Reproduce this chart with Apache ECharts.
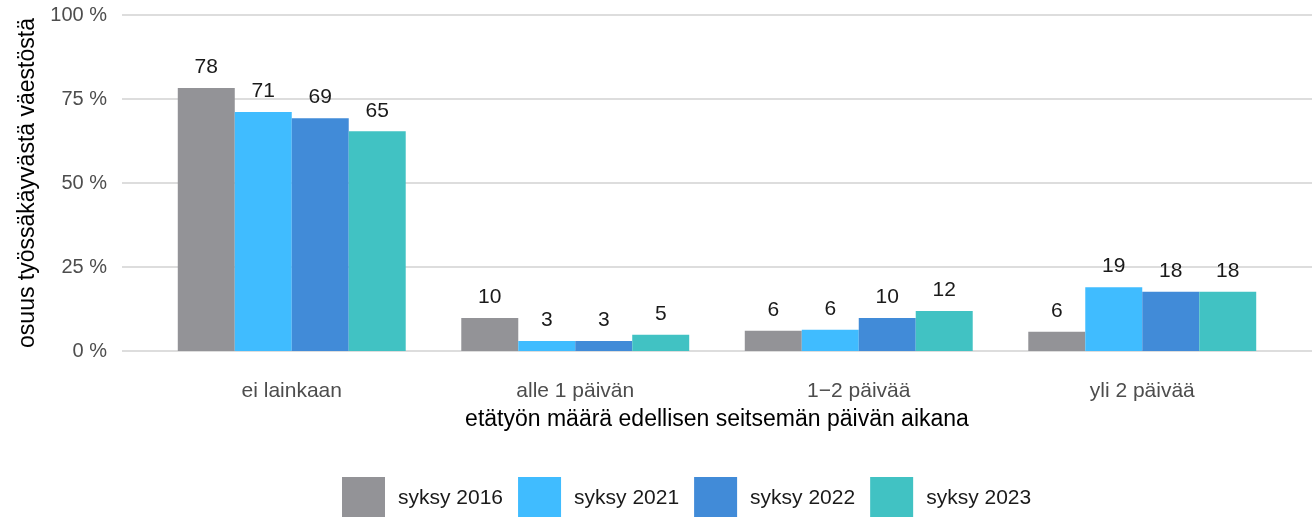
<!DOCTYPE html>
<html>
<head>
<meta charset="utf-8">
<script src="https://cdn.jsdelivr.net/npm/echarts@6/dist/echarts.min.js"></script>
<style>
  html, body { margin: 0; padding: 0; background: #fff; }
  #chart { width: 1316px; height: 517px; }
</style>
</head>
<body>
<div id="chart"></div>
<script>
const categories = ['ei lainkaan', 'alle 1 päivän', '1−2 päivää', 'yli 2 päivää'];
const seriesNames = ['syksy 2016', 'syksy 2021', 'syksy 2022', 'syksy 2023'];
const syksy2016 = [78.3, 9.8, 6.0, 5.7];
const syksy2021 = [71.1, 3.0, 6.3, 19.0];
const syksy2022 = [69.3, 3.0, 9.8, 17.6];
const syksy2023 = [65.4, 4.8, 11.9, 17.6];
const yTicks = [0, 25, 50, 75, 100];
const colors = ['#939397', '#40BCFF', '#418BD8', '#41C2C3'];

const chart = echarts.init(document.getElementById('chart'));
const font = 'Arial, "Liberation Sans", sans-serif';

// outer grid carries the gridlines and y labels, inner grid holds the bars
// (ggplot-style padding on the discrete axis)
const makeSeries = (name, data, i) => ({
    name: name,
    type: 'bar',
    xAxisIndex: 1,
    yAxisIndex: 1,
    data: data,
    barGap: '0%',
    barCategoryGap: '19.6%',
    itemStyle: { color: colors[i] },
    label: {
        show: true,
        position: 'top',
        distance: 10,
        color: '#1a1a1a',
        fontFamily: font,
        fontSize: 21,
        formatter: (p) => Math.round(p.value)
    }
});

chart.setOption({
    animation: false,
    textStyle: { fontFamily: font },
    grid: [
        { left: 122, right: 4, top: 15, bottom: 166, outerBoundsMode: 'none' },
        { left: 150, right: 32, top: 15, bottom: 166, outerBoundsMode: 'none' }
    ],
    legend: {
        top: 477,
        left: 342,
        padding: 0,
        icon: 'rect',
        itemWidth: 43,
        itemHeight: 43,
        itemGap: 15,
        textStyle: { fontSize: 21, color: '#1a1a1a', fontFamily: font, padding: [0, 0, 0, 8] },
        data: seriesNames
    },
    xAxis: [
        {
            gridIndex: 0,
            type: 'category',
            data: categories,
            show: false
        },
        {
            gridIndex: 1,
            type: 'category',
            data: categories,
            name: 'etätyön määrä edellisen seitsemän päivän aikana',
            nameLocation: 'middle',
            nameGap: 57,
            nameTextStyle: { fontSize: 23, color: '#000', fontFamily: font },
            axisLine: { show: false },
            axisTick: { show: false },
            axisLabel: { fontSize: 21, color: '#4d4d4d', margin: 30, fontFamily: font }
        }
    ],
    yAxis: [
        {
            gridIndex: 0,
            type: 'value',
            min: yTicks[0],
            max: yTicks[yTicks.length - 1],
            interval: 25,
            name: 'osuus työssäkäyvästä väestöstä',
            nameLocation: 'middle',
            nameGap: 77,
            nameTextStyle: { fontSize: 23, color: '#000', fontFamily: font },
            axisLabel: { fontSize: 20, color: '#4d4d4d', margin: 15, formatter: '{value} %', fontFamily: font },
            splitLine: { lineStyle: { color: '#DDDDDD', width: 2 } },
            axisLine: { show: false },
            axisTick: { show: false }
        },
        {
            gridIndex: 1,
            type: 'value',
            min: yTicks[0],
            max: yTicks[yTicks.length - 1],
            interval: 25,
            show: false,
            splitLine: { show: false }
        }
    ],
    series: [
        makeSeries(seriesNames[0], syksy2016, 0),
        makeSeries(seriesNames[1], syksy2021, 1),
        makeSeries(seriesNames[2], syksy2022, 2),
        makeSeries(seriesNames[3], syksy2023, 3)
    ]
});
</script>
</body>
</html>
